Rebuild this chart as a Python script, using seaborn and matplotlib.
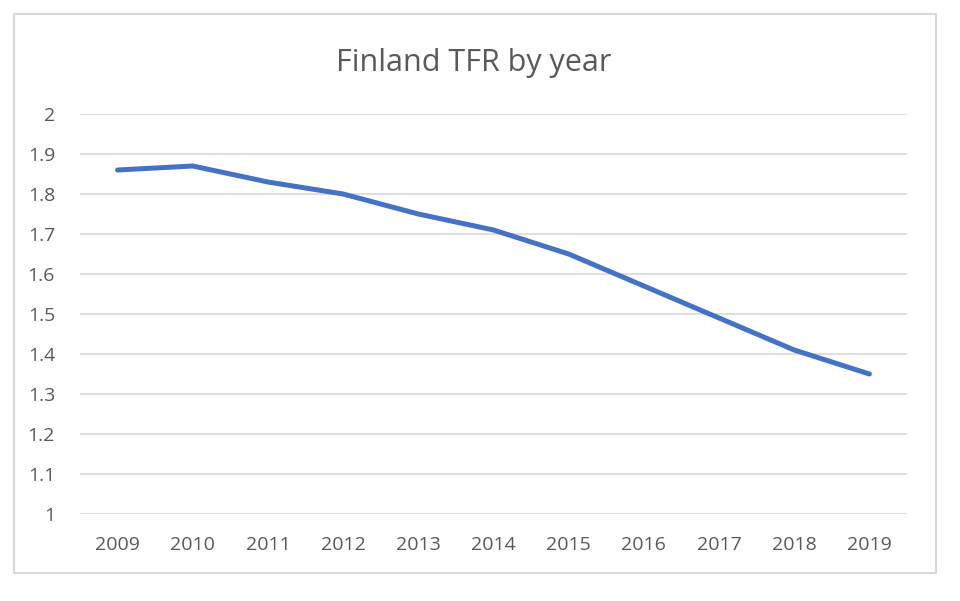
import matplotlib
matplotlib.use("Agg")
import matplotlib.pyplot as plt
import seaborn as sns
import pandas as pd
from matplotlib.patches import Rectangle

# Finland total fertility rate
years = ["2009", "2010", "2011", "2012", "2013", "2014", "2015", "2016", "2017", "2018", "2019"]
tfr = [1.86, 1.87, 1.83, 1.80, 1.75, 1.71, 1.65, 1.57, 1.49, 1.41, 1.35]
y_ticks = [1, 1.1, 1.2, 1.3, 1.4, 1.5, 1.6, 1.7, 1.8, 1.9, 2]
y_labels = ["1", "1.1", "1.2", "1.3", "1.4", "1.5", "1.6", "1.7", "1.8", "1.9", "2"]

df = pd.DataFrame({"Year": years, "TFR": tfr})

sns.set_style("white")
plt.rcParams["font.family"] = ["Open Sans", "DejaVu Sans"]
text_col = "#595959"

fig = plt.figure(figsize=(9.6, 6.01), dpi=100)
ax = fig.add_axes([80 / 960, 1 - 514 / 601, 827 / 960, 400 / 601])

# outer chart border
fig.patches.append(Rectangle((14 / 960, 1 - 573 / 601), 922 / 960, 559 / 601,
                             transform=fig.transFigure, fill=False,
                             edgecolor="#D9D9D9", linewidth=1.5))

sns.lineplot(data=df, x="Year", y="TFR", ax=ax, color="#4472C4",
             linewidth=3.6, sort=False, solid_capstyle="round")

ax.set_xlim(-0.5, len(years) - 0.5)
ax.set_ylim(1, 2)
ax.set_yticks(y_ticks)
ax.set_yticklabels(y_labels)
for y in y_ticks:
    ax.axhline(y, color="#D9D9D9", linewidth=1.2, zorder=0)

for s in ax.spines.values():
    s.set_visible(False)
ax.tick_params(axis="both", length=0, labelsize=14, colors=text_col)
ax.tick_params(axis="y", pad=18)
ax.tick_params(axis="x", pad=16)
ax.set_xlabel("")
ax.set_ylabel("")

fig.text(474 / 960, 1 - 63 / 601, "Finland TFR by year", ha="center", va="center",
         fontsize=22, color=text_col)

fig.savefig("out.png", dpi=100)
